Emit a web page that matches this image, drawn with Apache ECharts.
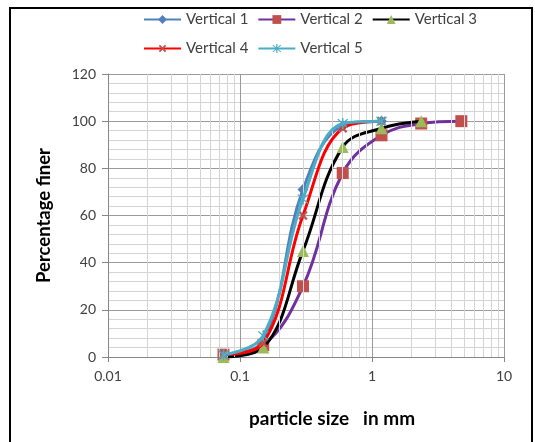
<!DOCTYPE html>
<html>
<head>
	<meta charset="UTF-8" />
	<title>Particle size distribution</title>
	<script src="https://cdn.jsdelivr.net/npm/echarts@6/dist/echarts.min.js"></script>
	<style>
		html, body { margin: 0; padding: 0; background: #fff; }
		#chart { width: 535px; height: 442px; }
	</style>
</head>
<body>
	<div id="chart"></div>
	<script type="text/javascript">
		// sieve sizes (mm) and percentage finer for each vertical
		const sizes = [0.075, 0.15, 0.3, 0.6, 1.18, 2.36, 4.75];
		const v1 = [1, 7, 71, 98, 100];
		const v2 = [1, 5, 30, 78, 94, 99, 100];
		const v3 = [0, 4, 45, 89, 97, 100];
		const v4 = [1, 6, 60, 97, 100];
		const v5 = [1, 9, 67, 99, 100];
		const names = ["Vertical 1", "Vertical 2", "Vertical 3", "Vertical 4", "Vertical 5"];
		// minor log grid lines (2..9 in each decade)
		const minorX = [0.02, 0.03, 0.04, 0.05, 0.06, 0.07, 0.08, 0.09,
			0.2, 0.3, 0.4, 0.5, 0.6, 0.7, 0.8, 0.9,
			2, 3, 4, 5, 6, 7, 8, 9];

		const FONT = "Lato";
		const cross = "path://M4,0H6V4H10V6H6V10H4V6H0V4H4Z";
		const asterisk = "path://M4.4,0H5.6V10H4.4Z M0.6,1.4L1.4,0.6L9.4,8.6L8.6,9.4Z M8.6,0.6L9.4,1.4L1.4,9.4L0.6,8.6Z";

		function pairs(vals) {
			return vals.map((v, i) => [sizes[i], v]);
		}

		function line(name, vals, lineColor, markColor, symbol, size, extra) {
			return Object.assign({
				name: name,
				type: "line",
				smooth: 0.4,
				data: pairs(vals),
				symbol: symbol,
				symbolSize: size,
				lineStyle: { color: lineColor, width: 3 },
				itemStyle: { color: markColor },
				emphasis: { disabled: true },
				animation: false
			}, extra || {});
		}

		const legendText = { fontFamily: FONT, fontSize: 15, color: "#404040" };

		const chart = echarts.init(document.getElementById("chart"));
		chart.setOption({
			backgroundColor: "#fff",
			graphic: [{
				type: "rect",
				shape: { x: 10, y: 8, width: 522, height: 460 },
				style: { fill: "none", stroke: "#000", lineWidth: 2 },
				silent: true
			}],
			legend: [{
				data: names.slice(0, 3),
				left: 138, top: 7,
				itemWidth: 37, itemHeight: 11, itemGap: 9,
				textStyle: legendText
			}, {
				data: names.slice(3),
				left: 138, top: 36,
				itemWidth: 37, itemHeight: 11, itemGap: 9,
				textStyle: legendText
			}],
			grid: { left: 108, right: 31, top: 74, bottom: 85, containLabel: false },
			xAxis: {
				type: "log",
				logBase: 10,
				min: 0.01,
				max: 10,
				name: "particle size   in mm",
				nameLocation: "middle",
				nameGap: 52,
				nameTextStyle: { fontFamily: FONT, fontSize: 19, fontWeight: "bold", color: "#000", padding: [0, 0, 0, 52] },
				axisLine: { show: true, lineStyle: { color: "#868686", width: 1 } },
				axisTick: { show: true, length: 5, lineStyle: { color: "#868686" } },
				axisLabel: { fontFamily: FONT, fontSize: 14, color: "#404040", margin: 12 },
				splitLine: { show: true, lineStyle: { color: "#9a9a9a", width: 1 } }
			},
			yAxis: {
				type: "value",
				min: 0,
				max: 120,
				interval: 20,
				name: "Percentage finer",
				nameLocation: "middle",
				nameGap: 54,
				nameTextStyle: { fontFamily: FONT, fontSize: 18.5, fontWeight: "bold", color: "#000" },
				axisLine: { show: true, lineStyle: { color: "#868686", width: 1 } },
				axisTick: { show: true, length: 6, lineStyle: { color: "#868686" } },
				axisLabel: { fontFamily: FONT, fontSize: 14, color: "#404040", margin: 12 },
				splitLine: { show: true, lineStyle: { color: "#9a9a9a", width: 1 } },
				minorTick: { show: false, splitNumber: 5 },
				minorSplitLine: { show: true, lineStyle: { color: "#d4d4d4", width: 1 } }
			},
			series: [
				line(names[0], v1, "#4F81BD", "#4F81BD", "diamond", 11, {
					markLine: {
						silent: true,
						symbol: ["none", "none"],
						label: { show: false },
						lineStyle: { color: "#d4d4d4", type: "solid", width: 1 },
						emphasis: { disabled: true },
						animation: false,
						data: minorX.map(x => ({ xAxis: x }))
					},
					z: 2
				}),
				line(names[1], v2, "#7030A0", "#C0504D", "rect", 12, { z: 3 }),
				line(names[2], v3, "#000000", "#9BBB59", "triangle", 12, { z: 4 }),
				line(names[3], v4, "#FF0000", "#C0504D", cross, 11, { symbolRotate: 45, z: 5 }),
				line(names[4], v5, "#4BACC6", "#4BACC6", asterisk, 11, { z: 6 })
			]
		});
	</script>
</body>
</html>
